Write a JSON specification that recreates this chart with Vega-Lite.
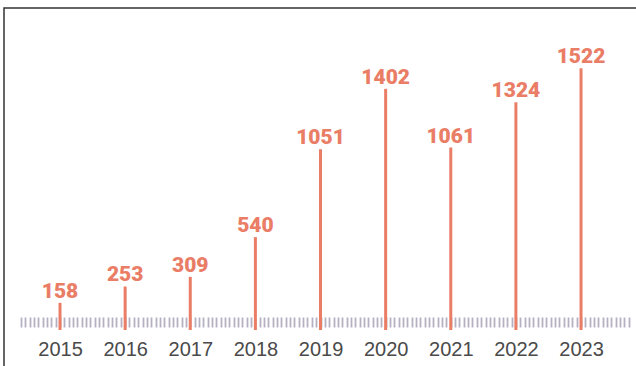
{
  "$schema": "https://vega.github.io/schema/vega-lite/v6.json",
  "width": 640,
  "height": 370,
  "autosize": {"type": "none"},
  "padding": {"left": 4, "top": 8, "right": 0, "bottom": 0},
  "background": "white",
  "config": {"view": {"stroke": "#333333", "strokeWidth": 1.5}},
  "data": {
    "values": [
      {"year": 2015, "value": 158},
      {"year": 2016, "value": 253},
      {"year": 2017, "value": 309},
      {"year": 2018, "value": 540},
      {"year": 2019, "value": 1051},
      {"year": 2020, "value": 1402},
      {"year": 2021, "value": 1061},
      {"year": 2022, "value": 1324},
      {"year": 2023, "value": 1522}
    ]
  },
  "layer": [
    {
      "mark": {"type": "rule", "color": "#ea7d66", "strokeWidth": 3},
      "encoding": {
        "x": {
          "field": "year",
          "type": "quantitative",
          "scale": {"domain": [2014.14, 2023.967], "nice": false, "zero": false},
          "axis": {
            "orient": "bottom",
            "offset": -61,
            "domain": false,
            "grid": false,
            "labels": false,
            "title": null,
            "ticks": true,
            "tickSize": 10,
            "tickWidth": 1.8,
            "tickColor": "#b6b0c2",
            "values": [2014.4, 2014.4667, 2014.5333, 2014.6, 2014.6667, 2014.7333, 2014.8, 2014.8667, 2014.9333,
              2015, 2015.0667, 2015.1333, 2015.2, 2015.2667, 2015.3333, 2015.4, 2015.4667, 2015.5333, 2015.6, 2015.6667, 2015.7333, 2015.8, 2015.8667, 2015.9333,
              2016, 2016.0667, 2016.1333, 2016.2, 2016.2667, 2016.3333, 2016.4, 2016.4667, 2016.5333, 2016.6, 2016.6667, 2016.7333, 2016.8, 2016.8667, 2016.9333,
              2017, 2017.0667, 2017.1333, 2017.2, 2017.2667, 2017.3333, 2017.4, 2017.4667, 2017.5333, 2017.6, 2017.6667, 2017.7333, 2017.8, 2017.8667, 2017.9333,
              2018, 2018.0667, 2018.1333, 2018.2, 2018.2667, 2018.3333, 2018.4, 2018.4667, 2018.5333, 2018.6, 2018.6667, 2018.7333, 2018.8, 2018.8667, 2018.9333,
              2019, 2019.0667, 2019.1333, 2019.2, 2019.2667, 2019.3333, 2019.4, 2019.4667, 2019.5333, 2019.6, 2019.6667, 2019.7333, 2019.8, 2019.8667, 2019.9333,
              2020, 2020.0667, 2020.1333, 2020.2, 2020.2667, 2020.3333, 2020.4, 2020.4667, 2020.5333, 2020.6, 2020.6667, 2020.7333, 2020.8, 2020.8667, 2020.9333,
              2021, 2021.0667, 2021.1333, 2021.2, 2021.2667, 2021.3333, 2021.4, 2021.4667, 2021.5333, 2021.6, 2021.6667, 2021.7333, 2021.8, 2021.8667, 2021.9333,
              2022, 2022.0667, 2022.1333, 2022.2, 2022.2667, 2022.3333, 2022.4, 2022.4667, 2022.5333, 2022.6, 2022.6667, 2022.7333, 2022.8, 2022.8667, 2022.9333,
              2023, 2023.0667, 2023.1333, 2023.2, 2023.2667, 2023.3333, 2023.4, 2023.4667, 2023.5333, 2023.6, 2023.6667, 2023.7333]
          }
        },
        "y": {
          "field": "value",
          "type": "quantitative",
          "scale": {"domain": [-279, 1872], "nice": false, "zero": false},
          "axis": null
        },
        "y2": {"datum": 0}
      }
    },
    {
      "mark": {
        "type": "text",
        "color": "#ea7d66",
        "font": "Roboto",
        "fontWeight": 900,
        "fontSize": 21,
        "baseline": "alphabetic",
        "dy": -5
      },
      "encoding": {
        "x": {
          "field": "year",
          "type": "quantitative",
          "axis": {
            "orient": "bottom",
            "offset": -38,
            "domain": false,
            "grid": false,
            "ticks": false,
            "tickSize": 0,
            "title": null,
            "values": [2015, 2016, 2017, 2018, 2019, 2020, 2021, 2022, 2023],
            "format": "d",
            "labelFont": "Liberation Sans",
            "labelFontSize": 20,
            "labelColor": "#4a4a4a",
            "labelBaseline": "alphabetic",
            "labelPadding": 15,
            "labelFlush": false,
            "labelOverlap": false
          }
        },
        "y": {"field": "value", "type": "quantitative", "axis": null},
        "text": {"field": "value", "type": "quantitative", "format": "d"}
      }
    }
  ],
  "resolve": {"axis": {"x": "independent"}}
}
